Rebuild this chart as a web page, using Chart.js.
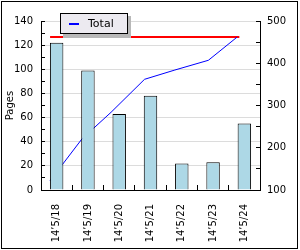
<!DOCTYPE html>
<html>
<head>
<meta charset="utf-8">
<script src="https://cdn.jsdelivr.net/npm/chart.js@4/dist/chart.umd.min.js"></script>
<style>
  html, body { margin: 0; padding: 0; background: #fff; }
</style>
</head>
<body>
<canvas id="myChart" width="300" height="250"></canvas>
<script>
// daily pages (bars) and running total (line, right axis)
const days = ['14’5/18', '14’5/19', '14’5/20', '14’5/21', '14’5/22', '14’5/23', '14’5/24'];
const pages = [122, 99, 63, 78, 22, 23, 55];
const totalTimes = [-0.21, 0.81, 1.74, 2.81, 3.78, 4.85, 5.77];
const totalPages = [122, 221, 284, 362, 384, 407, 462];
const goalTimes = [-0.21, 5.84];
const goalPages = [462, 462];
const pageTicks = [0, 20, 40, 60, 80, 100, 120, 140];
const totalTicks = [100, 200, 300, 400, 500];

Chart.defaults.font.family = 'DejaVu Sans';
Chart.defaults.font.size = 10;
Chart.defaults.color = '#000';

const framePlugin = {
    id: 'frame',
    beforeDraw(chart) {
        const ctx = chart.ctx;
        ctx.save();
        ctx.fillStyle = '#fff';
        ctx.fillRect(0, 0, chart.width, chart.height);
        ctx.restore();
    },
    afterDraw(chart) {
        const ctx = chart.ctx;
        ctx.save();
        ctx.strokeStyle = '#000';
        ctx.lineWidth = 1;
        ctx.strokeRect(1.5, 1.5, 296, 247);

        // legend box with shadow
        const ds = chart.data.datasets[1];
        ctx.fillStyle = '#b8b8b8';
        ctx.fillRect(63, 16, 68, 22);
        ctx.fillStyle = '#eceaf0';
        ctx.fillRect(60, 13, 68, 21);
        ctx.strokeRect(60.5, 13.5, 67, 20);
        ctx.strokeStyle = ds.borderColor;
        ctx.lineWidth = 2;
        ctx.beginPath();
        ctx.moveTo(69, 24);
        ctx.lineTo(79, 24);
        ctx.stroke();
        ctx.fillStyle = '#000';
        ctx.font = '11px "DejaVu Sans"';
        ctx.textBaseline = 'middle';
        ctx.fillText(ds.label, 88, 24);
        ctx.restore();
    }
};

const ctx = document.getElementById('myChart');

new Chart(ctx, {
    type: 'bar',
    data: {
        labels: days,
        datasets: [{
            label: 'Pages',
            data: pages,
            backgroundColor: '#add8e6',
            borderColor: '#000',
            borderWidth: 1,
            grouped: false,
            barPercentage: 0.43,
            categoryPercentage: 1,
            order: 0
        }, {
            type: 'line',
            label: 'Total',
            data: totalTimes.map((t, i) => ({x: t, y: totalPages[i]})),
            xAxisID: 'xl',
            yAxisID: 'y2',
            borderColor: '#0000ff',
            borderWidth: 1,
            pointRadius: 0,
            tension: 0,
            order: 1
        }, {
            type: 'line',
            label: 'Goal',
            data: goalTimes.map((t, i) => ({x: t, y: goalPages[i]})),
            xAxisID: 'xl',
            yAxisID: 'y2',
            borderColor: '#ff0000',
            borderWidth: 2,
            pointRadius: 0,
            order: 2
        }]
    },
    options: {
        responsive: false,
        animation: false,
        devicePixelRatio: 1,
        layout: { padding: { top: 21, left: 0, right: 0, bottom: 0 } },
        plugins: {
            legend: { display: false },
            tooltip: { enabled: false }
        },
        scales: {
            x: {
                type: 'category',
                offset: true,
                afterFit: (s) => { s.height = 60; },
                border: { display: true, color: '#000', width: 1 },
                grid: { offset: true, drawOnChartArea: false, tickColor: '#000', tickLength: -5 },
                ticks: { minRotation: 90, maxRotation: 90, autoSkip: false, padding: 19 }
            },
            xl: {
                type: 'linear',
                display: false,
                offset: false,
                grid: { offset: false },
                min: -0.5,
                max: 6.5
            },
            y: {
                position: 'left',
                min: pageTicks[0],
                max: pageTicks[pageTicks.length - 1],
                afterFit: (s) => { s.width = 41; },
                border: { display: true, color: '#000', width: 1 },
                grid: {
                    color: (c) => pageTicks.includes(c.tick.value) ? '#dcdcdc' : 'rgba(0,0,0,0)',
                    tickColor: '#000',
                    tickLength: -4
                },
                ticks: {
                    stepSize: 10,
                    autoSkip: false,
                    padding: 12,
                    callback: (v) => pageTicks.includes(v) ? String(v) : ''
                },
                title: { display: true, text: 'Pages', padding: { top: 4, bottom: 0 } }
            },
            y2: {
                position: 'right',
                min: totalTicks[0],
                max: totalTicks[totalTicks.length - 1],
                afterFit: (s) => { s.width = 40; },
                border: { display: true, color: '#000', width: 1 },
                grid: { drawOnChartArea: false, tickColor: '#000', tickLength: -4 },
                ticks: {
                    stepSize: 50,
                    autoSkip: false,
                    padding: 11,
                    callback: (v) => totalTicks.includes(v) ? String(v) : ''
                }
            }
        }
    },
    plugins: [framePlugin]
});
</script>
</body>
</html>
